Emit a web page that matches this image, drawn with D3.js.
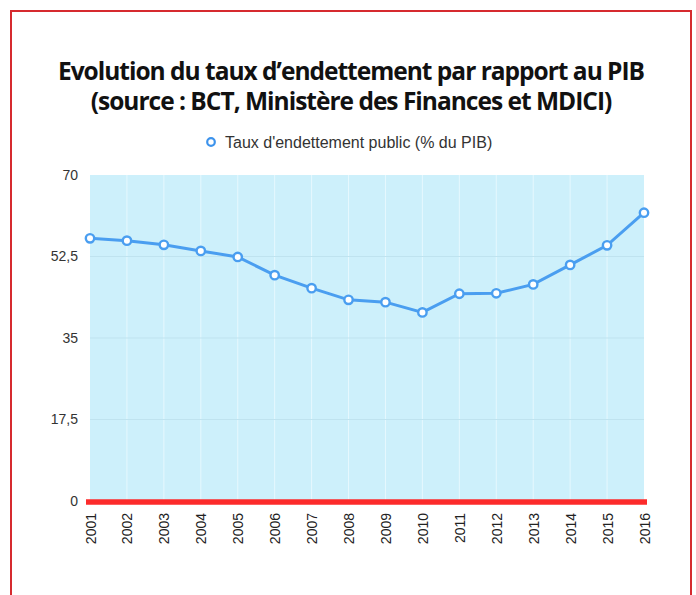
<!DOCTYPE html>
<html><head><meta charset="utf-8">
<script src="https://cdn.jsdelivr.net/npm/d3@7"></script>
<style>
html,body{margin:0;padding:0;background:#fff;}
svg{display:block;}
</style></head>
<body>
<script>
const years = ["2001","2002","2003","2004","2005","2006","2007","2008","2009","2010","2011","2012","2013","2014","2015","2016"];
const debtRatio = [56.4,55.9,55.0,53.7,52.4,48.5,45.7,43.2,42.7,40.5,44.5,44.6,46.5,50.7,54.9,61.9];
const yTicks = [0,17.5,35,52.5,70];
const titleLines = ["Evolution du taux d’endettement par rapport au PIB","(source : BCT, Ministère des Finances et MDICI)"];
const seriesName = "Taux d'endettement public (% du PIB)";

const W = 696, H = 595;
const svg = d3.select("body").append("svg").attr("width", W).attr("height", H);

// frame
svg.append("rect").attr("x",11).attr("y",11).attr("width",680).attr("height",H)
  .attr("fill","none").attr("stroke","#d62a2f").attr("stroke-width",2);

const m = {left:90, right:644, top:175, bottom:501};
const x = d3.scalePoint().domain(years).range([m.left, m.right]);
const y = d3.scaleLinear().domain([0,70]).range([m.bottom, m.top]);

// title
svg.append("g").selectAll("text").data(titleLines).join("text")
  .attr("x", 351).attr("y",(d,i)=>80+i*30)
  .attr("text-anchor","middle")
  .style("font-family","'Open Sans'").style("font-weight","700")
  .style("font-size","24.5px").style("letter-spacing","-1px")
  .attr("fill","#111").text(d=>d);

// legend
const lg = svg.append("g");
lg.append("circle").attr("cx",211).attr("cy",142).attr("r",3.8)
  .attr("fill","#fff").attr("stroke","#3d93ec").attr("stroke-width",2.2);
lg.append("text").attr("x",225).attr("y",147.5)
  .style("font-family","'Liberation Sans', Arial").style("font-size","16px")
  .attr("fill","#333").text(seriesName);

// plot background
svg.append("rect").attr("x",m.left).attr("y",m.top)
  .attr("width",m.right-m.left).attr("height",m.bottom-m.top)
  .attr("fill","#cdf0fb");

// vertical grid
svg.append("g").selectAll("line").data(years.slice(1,-1)).join("line")
  .attr("x1",d=>x(d)).attr("x2",d=>x(d)).attr("y1",m.top).attr("y2",m.bottom)
  .attr("stroke","#e6f8fe").attr("stroke-width",1);

// horizontal grid
svg.append("g").selectAll("line").data(yTicks.slice(1,-1)).join("line")
  .attr("x1",m.left).attr("x2",m.right).attr("y1",d=>y(d)).attr("y2",d=>y(d))
  .attr("stroke","#bfe3ef").attr("stroke-width",1);

// y axis
const yAxis = d3.axisLeft(y).tickValues(yTicks).tickSize(0).tickPadding(12)
  .tickFormat(d=>String(d).replace(".",","));
const gy = svg.append("g").attr("transform",`translate(${m.left},0)`).call(yAxis);
gy.select(".domain").remove();
gy.selectAll("text").style("font-family","'Liberation Sans', Arial").style("font-size","14px").attr("fill","#333");

// x axis
const xAxis = d3.axisBottom(x).tickSize(0).tickPadding(0);
const gx = svg.append("g").attr("transform",`translate(0,${m.bottom})`).call(xAxis);
gx.select(".domain").remove();
gx.selectAll("text")
  .style("font-family","'Liberation Sans', Arial").style("font-size","14px").attr("fill","#222")
  .attr("text-anchor","end").attr("dy",null)
  .attr("transform","translate(5,12) rotate(-90)");

// red baseline
svg.append("line").attr("x1",m.left-4).attr("x2",m.right+3)
  .attr("y1",y(0)+1).attr("y2",y(0)+1)
  .attr("stroke","#fc2b2b").attr("stroke-width",5.5);

// line
const line = d3.line().x((d,i)=>x(years[i])).y(d=>y(d));
svg.append("path").datum(debtRatio).attr("d",line)
  .attr("fill","none").attr("stroke","#4a9ef0").attr("stroke-width",3);

svg.append("g").selectAll("circle").data(debtRatio).join("circle")
  .attr("cx",(d,i)=>x(years[i])).attr("cy",d=>y(d)).attr("r",4.2)
  .attr("fill","#fff").attr("stroke","#4a9ef0").attr("stroke-width",2.4);
</script>
</body></html>
